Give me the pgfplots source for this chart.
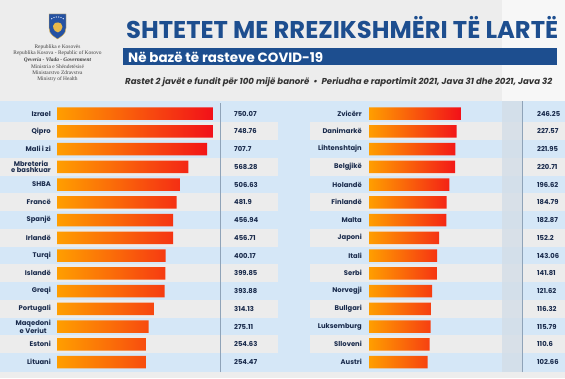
\documentclass[border=0pt]{standalone}
\usepackage{pgfplots}
\pgfplotsset{compat=1.18}
\usepackage{pgfplotstable}
\usepackage{graphicx}
\usepackage{fontspec}
\setmainfont{Poppins}
\newfontfamily\logofont{Liberation Serif}

\definecolor{bgray}{HTML}{EDEDED}
\definecolor{pblue}{HTML}{D5E7F7}
\definecolor{sgray}{HTML}{ECECEC}
\definecolor{tblue}{HTML}{1D4E8F}
\definecolor{navy}{HTML}{1A2B4C}
\definecolor{barL}{HTML}{FF9E00}
\definecolor{barR}{HTML}{F21019}
\definecolor{shield}{HTML}{2552A3}
\definecolor{gold}{HTML}{E8B84A}
\definecolor{vline}{HTML}{8FA3B8}
\definecolor{colband}{HTML}{D3DDE7}

\pgfplotstableread{
pos val
1 750.07
2 748.76
3 707.7
4 568.28
5 506.63
6 481.9
7 456.94
8 456.71
9 400.17
10 399.85
11 393.88
12 314.13
13 275.11
14 254.63
15 254.47
}\leftdata

\pgfplotstableread{
pos val
1 246.25
2 227.57
3 221.95
4 220.71
5 196.62
6 184.79
7 182.87
8 152.2
9 143.06
10 141.81
11 121.62
12 116.32
13 115.79
14 110.6
15 102.66
}\rightdata

\pgfplotsset{panel/.style={
  scale only axis, height=266.25pt, ymin=0.5, ymax=15.5, y dir=reverse,
  axis line style={draw=none}, xtick=\empty, ytick={1,...,15},
  major tick length=0pt, tick style={draw=none},
  yticklabel style={font=\fontsize{6.8}{6.6}\selectfont\bfseries, text=navy, align=center, inner sep=0pt},
  clip=false,
}}

\begin{document}
\begin{tikzpicture}[x=1pt,y=1pt]
% background
\fill[bgray] (0,0) rectangle (565,378);
\fill[white!55!bgray] (502,277) rectangle (565,378);
\fill[pblue] (0,6) rectangle (565,277);
\foreach \i in {2,4,...,14}{
  \pgfmathsetmacro{\yt}{273.4-(\i-1)*17.75}
  \pgfmathsetmacro{\yb}{273.4-\i*17.75}
  \fill[sgray] (0,\yt) rectangle (278,\yb);
  \fill[sgray] (310,\yt) rectangle (565,\yb);
}
\fill[colband,opacity=0.8] (502,6) rectangle (522,277);
\draw[vline,line width=0.7pt] (220,6) -- (220,275);
\draw[vline,line width=0.7pt] (522,6) -- (522,277);

% logo
\fill[shield,draw=gold,line width=0.4pt] (49,364) -- (66,364) -- (66,350) .. controls (66,343) and (60,341) .. (57.5,339) .. controls (55,341) and (49,343) .. (49,350) -- cycle;
\fill[gold] (53,352) -- (55,355) -- (58,355.5) -- (61,354.5) -- (62.5,351) -- (61,347.5) -- (58,345.5) -- (55,347) -- (53.5,349.5) -- cycle;
\foreach \sx/\sy in {51.8/359.3,54/360.4,56.3/361,58.7/361,61/360.4,63.2/359.3}{
  \fill[white] (\sx,\sy) circle (0.65);
}
\begin{scope}[every node/.style={inner sep=0pt, text=black!75, font=\logofont\fontsize{5.4}{5.4}\selectfont}]
\node at (57.5,330.3) {Republika e Kosovës};
\node at (57.5,324.7) {Republika Kosova - Republic of Kosovo};
\node at (57.5,318.3) {\bfseries\itshape Qeveria - Vlada - Government};
\node at (57.5,311.8) {Ministria e Shëndetësisë};
\node at (57.5,305.0) {Ministarstvo Zdravstva};
\node at (57.5,298.5) {Ministry of Health};
\end{scope}

% title
\node[anchor=base west, inner sep=0pt, text=tblue] at (126,339) {\resizebox{432pt}{!}{\bfseries SHTETET ME RREZIKSHMËRI TË LARTË}};
\fill[tblue] (123,312.5) rectangle (557,329.5);
\node[anchor=base west, inner sep=0pt, text=white] at (128,315.3) {\resizebox{195pt}{!}{\bfseries Në bazë të rasteve COVID-19}};
\node[anchor=base west, inner sep=0pt, text=black!80] at (125,293.5) {\resizebox{427pt}{!}{\bfseries\itshape Rastet 2 javët e fundit për 100 mijë banorë \ \textbullet\ \ Periudha e raportimit 2021, Java 31 dhe 2021, Java 32}};

% left panel
\begin{axis}[panel, at={(57pt,7.1pt)}, anchor=south west, width=163pt,
  xmin=0, xmax=1202,
  yticklabel style={xshift=-6pt},
  yticklabels={Izrael,Qipro,Mali i zi,{Mbreteria\\e bashkuar},SHBA,Francë,Spanjë,Irlandë,Turqi,Islandë,Greqi,Portugali,{Maqedoni\\e Veriut},Estoni,Lituani}]
\addplot[xbar, bar width=12.5pt, bar shift=0pt, draw=none, left color=barL, right color=barR,
  x filter/.expression={x+400}] table[x=val, y=pos] {\leftdata};
\addplot[draw=none, mark=none, nodes near coords, point meta=explicit symbolic,
  nodes near coords style={anchor=west, inner sep=0pt, font=\fontsize{6.8}{7}\selectfont\bfseries, text=navy}]
  table[x expr=1305, y=pos, meta=val] {\leftdata};
\end{axis}

% right panel
\begin{axis}[panel, at={(369pt,7.1pt)}, anchor=south west, width=153pt,
  xmin=0, xmax=659,
  yticklabel style={xshift=-7pt},
  yticklabels={Zvicërr,Danimarkë,Lihtenshtajn,Belgjikë,Holandë,Finlandë,Malta,Japoni,Itali,Serbi,Norvegji,Bullgari,Luksemburg,Slloveni,Austri}]
\addplot[xbar, bar width=12.5pt, bar shift=0pt, draw=none, left color=barL, right color=barR,
  x filter/.expression={x+150}] table[x=val, y=pos] {\rightdata};
\addplot[draw=none, mark=none, nodes near coords, point meta=explicit symbolic,
  nodes near coords style={anchor=west, inner sep=0pt, font=\fontsize{6.8}{7}\selectfont\bfseries, text=navy}]
  table[x expr=723.5, y=pos, meta=val] {\rightdata};
\end{axis}
\end{tikzpicture}
\end{document}
